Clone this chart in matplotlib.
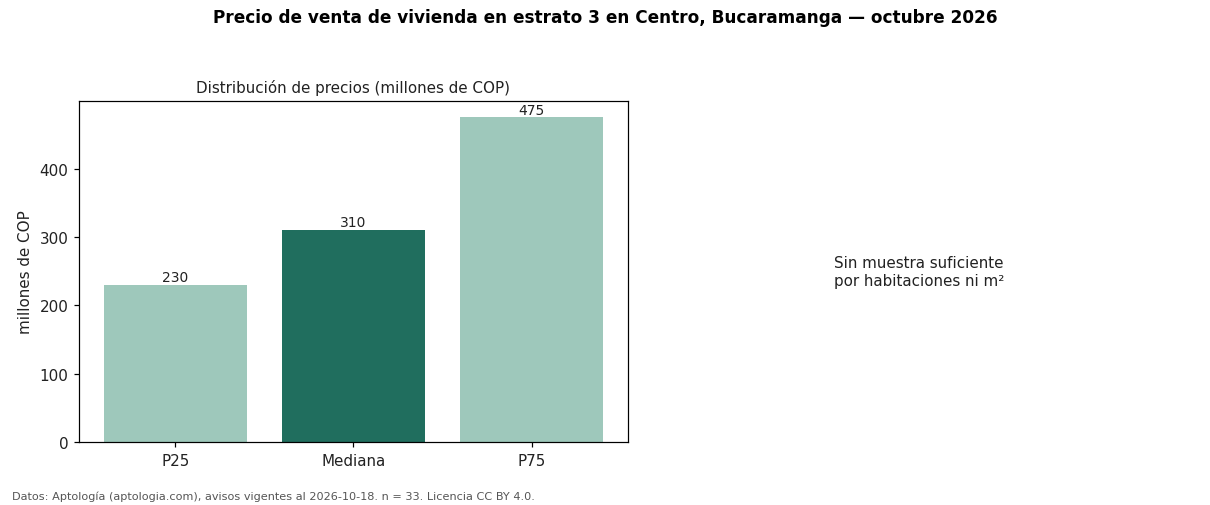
import matplotlib
matplotlib.use("Agg")
import matplotlib.pyplot as plt

categories = ["P25", "Mediana", "P75"]
values = [230, 310, 475]
colors = ["#9ec8bb", "#206e5e", "#9ec8bb"]

title = "Precio de venta de vivienda en estrato 3 en Centro, Bucaramanga — octubre 2026"
subtitle = "Distribución de precios (millones de COP)"
ylabel = "millones de COP"
note = "Sin muestra suficiente\npor habitaciones ni m²"
footer = "Datos: Aptología (aptologia.com), avisos vigentes al 2026-10-18. n = 33. Licencia CC BY 4.0."

s = 1.1
W, H = 1210, 506
fig = plt.figure(figsize=(W / 100, H / 100), dpi=100)
ax = fig.add_axes([79 / W, 1 - 443 / H, (628 - 79) / W, (443 - 102) / H])
bars = ax.bar(categories, values, color=colors, width=0.8)
ax.set_ylim(0, max(values) * 1.05)
for b, v in zip(bars, values):
    ax.text(b.get_x() + b.get_width() / 2, v + 1, f"{v}", ha="center", va="bottom",
            fontsize=10, color="#222222")
ax.set_title(subtitle, fontsize=10.9, pad=6 * s, color="#222222")
ax.set_ylabel(ylabel, fontsize=10.9, labelpad=4 * s, color="#222222")
ax.tick_params(labelsize=10.9, length=3.5 * s, width=0.8 * s, pad=3.5 * s, labelcolor="#222222")
for sp in ax.spines.values():
    sp.set_linewidth(0.8 * s)

ax2 = fig.add_axes([660 / W, 1 - 443 / H, (1178 - 660) / W, (443 - 102) / H])
ax2.axis("off")
ax2.text(0.5, 0.5, note, ha="center", va="center", fontsize=10.9, transform=ax2.transAxes,
         multialignment="left", color="#222222")

fig.suptitle(title, fontsize=12.15, fontweight="bold", y=1 - 18 / H, va="center")
fig.text(12 / W, 1 - 497 / H, footer, fontsize=8.1, color="#555555", va="center", ha="left")
fig.savefig("out.png", dpi=100)
